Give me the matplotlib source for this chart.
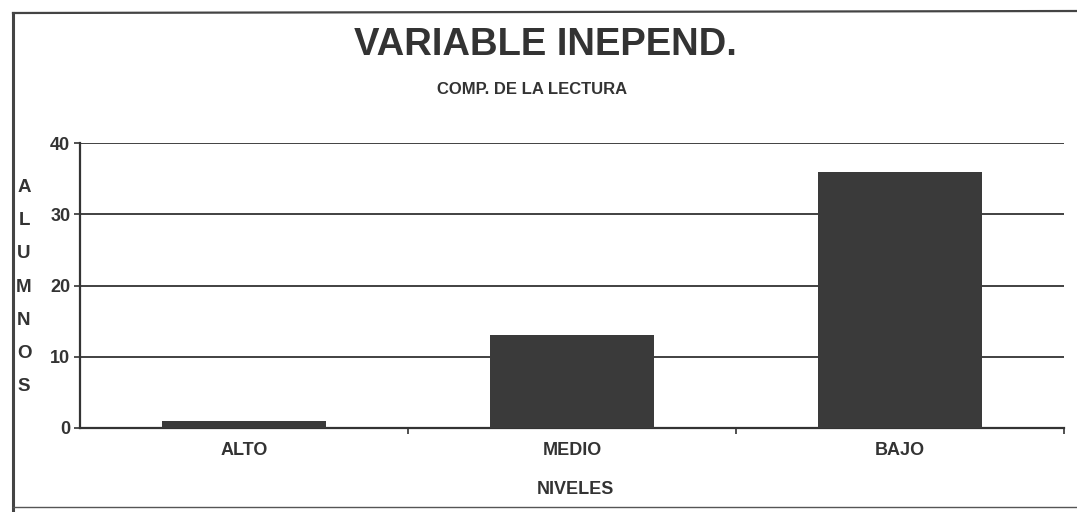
import matplotlib
matplotlib.use("Agg")
import matplotlib.pyplot as plt
from matplotlib.lines import Line2D

categories = ["ALTO", "MEDIO", "BAJO"]
values = [1, 13, 36]
yticks = [0, 10, 20, 30, 40]

title = "VARIABLE INEPEND."
subtitle = "COMP. DE LA LECTURA"
xlabel = "NIVELES"
ylabel = "ALUMNOS"

fam = ["Liberation Sans", "DejaVu Sans"]
txt = "#333333"
bar_color = "#3a3a3a"

fig = plt.figure(figsize=(10.77, 5.12), dpi=100)
fig.patch.set_facecolor("white")

W, H = 1077, 512
def fx(px):
    return px / W
def fy(py):
    return 1 - py / H

# outer frame (left, top, bottom)
fig.add_artist(Line2D([fx(13), fx(13)], [fy(13), fy(512)], transform=fig.transFigure,
                      color="#444444", linewidth=2.2))
fig.add_artist(Line2D([fx(13), fx(1077)], [fy(13), fy(11)], transform=fig.transFigure,
                      color="#444444", linewidth=1.6))
fig.add_artist(Line2D([fx(13), fx(1077)], [fy(507), fy(507)], transform=fig.transFigure,
                      color="#555555", linewidth=1.0))

ax = fig.add_axes([fx(80), fy(428), (1064 - 80) / W, (428 - 143) / H])
x = list(range(len(categories)))
ax.bar(x, values, width=0.5, color=bar_color, zorder=3)
ax.set_xlim(-0.5, len(categories) - 0.5)
ax.set_ylim(0, 40)
ax.set_yticks(yticks)
ax.set_yticklabels([str(t) for t in yticks], family=fam, fontsize=13,
                   fontweight="bold", color=txt)
ax.set_xticks(x)
ax.set_xticklabels(categories, family=fam, fontsize=13, fontweight="bold", color=txt)
ax.tick_params(axis="x", length=0, pad=10)
ax.tick_params(axis="y", length=4, width=1.2, color="#333333", pad=3)
ax.set_xticks([0.5, 1.5, 2.5], minor=True)
ax.tick_params(axis="x", which="minor", length=4, width=1.2, color="#333333")
ax.yaxis.grid(True, color="#333333", linewidth=1.3, zorder=0)
for s in ["top", "right"]:
    ax.spines[s].set_visible(False)
for s in ["left", "bottom"]:
    ax.spines[s].set_color("#333333")
    ax.spines[s].set_linewidth(1.6)

fig.text(fx(545), fy(45), title, ha="center", va="center",
         family=fam, fontsize=27.5, fontweight="bold", color=txt)
fig.text(fx(532), fy(90), subtitle, ha="center", va="center",
         family=fam, fontsize=12, fontweight="bold", color=txt)
fig.text(fx(575), fy(490), xlabel, ha="center", va="center",
         family=fam, fontsize=13, fontweight="bold", color=txt)
fig.text(fx(24), fy(287), "\n".join(ylabel), ha="center", va="center",
         family=fam, fontsize=13.5, fontweight="bold", color=txt, linespacing=2.25)

fig.savefig("out.png", dpi=100, facecolor="white")
